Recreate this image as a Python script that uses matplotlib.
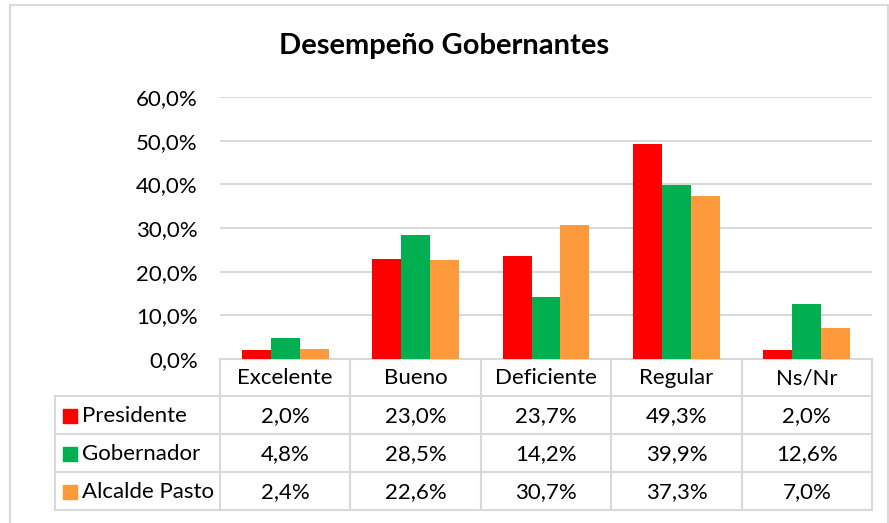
"""
Desempeño Gobernantes - clustered bars with data table below
"""

import numpy as np
import matplotlib.pyplot as plt
from matplotlib.patches import Rectangle
from matplotlib.transforms import blended_transform_factory

plt.rcParams['font.family'] = ['Lato', 'DejaVu Sans']

# Data
categories = ["Excelente", "Bueno", "Deficiente", "Regular", "Ns/Nr"]
series_names = ["Presidente", "Gobernador", "Alcalde Pasto"]
presidente = [2.0, 23.0, 23.7, 49.3, 2.0]
gobernador = [4.8, 28.5, 14.2, 39.9, 12.6]
alcalde = [2.4, 22.6, 30.7, 37.3, 7.0]
y_ticks = [0, 10, 20, 30, 40, 50, 60]

series = [presidente, gobernador, alcalde]
colors = ["#ff0000", "#00b050", "#ff9a3c"]
grid_c = "#d9d9d9"
fs = 16

W, H = 889, 523
fig = plt.figure(figsize=(W / 100, H / 100), dpi=100)

# helper: pixel (from top) -> figure fraction
def fy(py):
    return 1 - py / H

def fx(px):
    return px / W

# outer chart frame
fig.patches.append(Rectangle((fx(10), fy(540)), fx(888) - fx(10), fy(5) - fy(540),
                             transform=fig.transFigure, fill=False,
                             edgecolor=grid_c, lw=1.5))

ax = fig.add_axes([fx(220), fy(359), fx(872) - fx(220), fy(97) - fy(359)])

x = np.arange(len(categories))
bw = 0.222
for i, (vals, c) in enumerate(zip(series, colors)):
    ax.bar(x + (i - 1) * bw, vals, width=bw, color=c, label=series_names[i], zorder=3)

ax.set_xlim(-0.5, len(categories) - 0.5)
ax.set_ylim(0, 60)
ax.set_yticks(y_ticks)
ax.set_yticklabels([f"{v:.1f}%".replace(".", ",") for v in y_ticks], fontsize=fs)
ax.tick_params(axis='y', length=0, pad=16)
ax.set_xticks([])
ax.grid(axis='y', color=grid_c, lw=1.5, zorder=0)
for s in ax.spines.values():
    s.set_visible(False)

fig.text(0.5, fy(46), "Desempeño Gobernantes", ha='center', va='center',
         fontsize=21, fontweight='bold')

# data table drawn under the plot, columns follow the bar axis
tr = blended_transform_factory(ax.transData, fig.transFigure)
top, hdr, rows_y = 359, 396, [396, 434, 472, 510]
lw = 1.5
edges = np.arange(len(categories) + 1) - 0.5

# vertical column lines
for e in edges:
    ax.add_line(plt.Line2D([e, e], [fy(top), fy(rows_y[-1])], transform=tr,
                           color=grid_c, lw=lw, clip_on=False))
# header top line
ax.add_line(plt.Line2D([edges[0], edges[-1]], [fy(top), fy(top)], transform=tr,
                       color=grid_c, lw=lw, clip_on=False))
# row lines through the row-label column
for yy in rows_y:
    fig.add_artist(plt.Line2D([fx(55), fx(872)], [fy(yy), fy(yy)],
                              transform=fig.transFigure, color=grid_c, lw=lw))
fig.add_artist(plt.Line2D([fx(55), fx(55)], [fy(rows_y[0]), fy(rows_y[-1])],
                          transform=fig.transFigure, color=grid_c, lw=lw))

# header labels
for i, cat in enumerate(categories):
    fig.text(0, 0, cat, transform=tr, fontsize=fs, ha='center', va='center').set_position(
        (x[i], fy((top + hdr) / 2 + 1)))

# rows
for r, (name, vals, c) in enumerate(zip(series_names, series, colors)):
    yc = fy((rows_y[r] + rows_y[r + 1]) / 2 + 1)
    fig.patches.append(Rectangle((fx(63), yc - 6.5 / H), 13.5 / W, 13.5 / H,
                                 transform=fig.transFigure, color=c))
    fig.text(fx(82), yc, name, fontsize=fs, ha='left', va='center')
    for i, v in enumerate(vals):
        fig.text(0, 0, f"{v:.1f}%".replace(".", ","), transform=tr, fontsize=fs,
                 ha='center', va='center').set_position((x[i], yc))

plt.savefig("out.png", dpi=100)
